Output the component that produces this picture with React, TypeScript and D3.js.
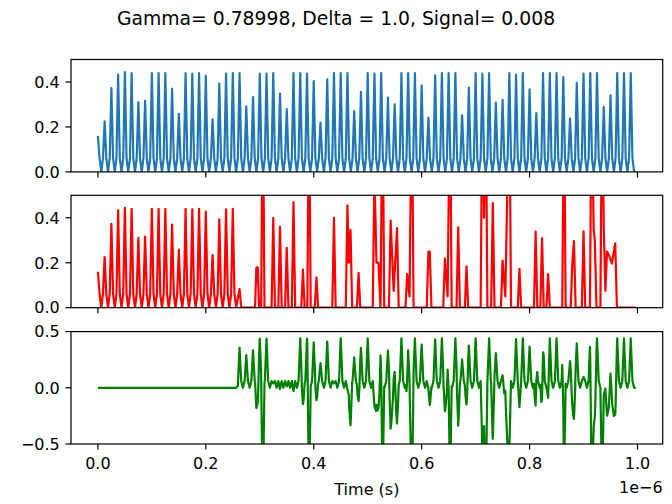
import React from "react";
import * as d3 from "d3";

const W = 672;
const H = 504;

// Peak height of each pulse of the blue (top) trace, 80 pulses over 1 µs.
const bluePeaks = [
  0.16, 0.225, 0.373, 0.433, 0.444, 0.44, 0.311, 0.316, 0.44, 0.44,
  0.44, 0.37, 0.258, 0.44, 0.437, 0.44, 0.427, 0.234, 0.393, 0.437,
  0.44, 0.44, 0.292, 0.333, 0.437, 0.437, 0.44, 0.348, 0.279, 0.44,
  0.44, 0.437, 0.404, 0.219, 0.412, 0.44, 0.44, 0.44, 0.271, 0.356,
  0.44, 0.437, 0.44, 0.33, 0.3, 0.44, 0.44, 0.44, 0.385, 0.241,
  0.43, 0.44, 0.44, 0.44, 0.252, 0.375, 0.44, 0.437, 0.44, 0.308,
  0.321, 0.44, 0.433, 0.44, 0.367, 0.262, 0.44, 0.44, 0.44, 0.422,
  0.237, 0.396, 0.437, 0.44, 0.44, 0.289, 0.341, 0.44, 0.44, 0.44,
];
// level of the blue trace beside a pulse, and at the trough between pulses
const blueFoot = 0.06;
const blueTrough = 0;
const pulsesPerMicrosecond = 80;
const lastSample = 79.75; // in pulse units

// Red (middle) trace: same as blue for the first 21 pulses, then these
// vertices [pulse position, value].
const redSharedPulses = 21;
const redLate: [number, number][] = [
  [21.0, 0.083], [21.25, 0],
  [23.3, 0], [23.5, 0.18], [23.7, 0.18], [23.9, 0], [24.2, 0], [24.45, 1.0], [24.7, 0],
  [25.75, 0], [26.0, 0.4], [26.25, 0],
  [26.75, 0], [27.0, 0.36], [27.25, 0],
  [27.75, 0], [28.0, 0.266], [28.25, 0],
  [28.75, 0], [29.0, 0.47], [29.25, 0],
  [30.15, 0], [30.4, 0.17], [30.65, 0], [31.05, 0], [31.3, 1.0], [31.55, 0],
  [32.15, 0], [32.4, 0.135], [32.65, 0],
  [34.75, 0], [35.0, 0.4], [35.25, 0],
  [36.75, 0], [37.0, 0.455], [37.2, 0.2], [37.45, 0.346], [37.7, 0],
  [38.4, 0], [38.65, 0.155], [38.9, 0],
  [40.75, 0], [41.0, 0.6], [41.3, 0.2], [41.6, 0.2], [41.9, 0], [42.2, 1.0], [42.45, 0],
  [43.15, 0], [43.4, 0.387], [43.85, 0.075], [44.35, 0.354], [44.6, 0],
  [45.6, 0], [45.85, 0.15], [46.2, 0.05], [46.55, 1.0], [46.8, 0],
  [48.75, 0], [49.0, 0.25], [49.2, 0.25], [49.45, 0],
  [51.2, 0], [51.45, 0.22], [51.85, 0.05], [52.2, 1.0], [52.45, 0],
  [53.17, 0], [53.42, 0.357], [53.67, 0],
  [54.4, 0], [54.65, 0.184], [54.9, 0],
  [56.75, 0], [57.0, 1.0], [57.25, 0.4], [57.5, 1.0], [57.75, 0],
  [58.3, 0], [58.55, 0.466], [58.8, 0],
  [59.75, 0], [60.0, 0.21], [60.4, 0.05], [61.0, 1.0], [61.25, 0],
  [62.25, 0], [62.5, 0.173], [62.75, 0],
  [64.65, 0], [64.9, 0.339], [65.15, 0], [65.6, 0], [65.85, 0.31], [66.1, 0],
  [66.5, 0], [66.75, 0.15], [67.0, 0],
  [68.85, 0], [69.1, 1.0], [69.35, 0],
  [70.1, 0], [70.33, 0.19], [70.58, 0.296], [70.83, 0],
  [71.75, 0], [72.0, 0.34], [72.25, 0],
  [72.95, 0], [73.2, 1.0], [73.5, 0.35], [73.67, 0.3], [73.92, 0],
  [74.5, 0], [74.75, 1.0], [75.0, 0.354], [75.24, 0.075], [75.48, 0.25],
  [75.82, 0.23], [76.2, 0.196], [76.7, 0.286], [76.95, 0],
  [79.75, 0],
];

const xTicks = [0, 0.2, 0.4, 0.6, 0.8, 1.0];
const xTickLabels = ["0.0", "0.2", "0.4", "0.6", "0.8", "1.0"];
const yTicksPos = [0, 0.2, 0.4];
const yTickLabelsPos = ["0.0", "0.2", "0.4"];
const yTicksDiff = [-0.5, 0, 0.5];
const yTickLabelsDiff = ["\u22120.5", "0.0", "0.5"];

const title = "Gamma= 0.78998, Delta = 1.0, Signal= 0.008";
const xLabel = "Time (s)";
const offsetLabel = "1e\u22126";

// ---- build series ----
function pulseTrain(peaks: number[], count: number) {
  const us: number[] = [];
  const vs: number[] = [];
  for (let i = 0; i < count; i++) {
    if (i > 0) {
      us.push(i - 0.25);
      vs.push(blueFoot);
    }
    us.push(i, i + 0.25, i + 0.5);
    vs.push(peaks[i], blueFoot, blueTrough);
  }
  return { us, vs };
}

const blueTrain = pulseTrain(bluePeaks, bluePeaks.length);
const blueU = [...blueTrain.us, lastSample];
const blueV = [...blueTrain.vs, blueTrough];

const redTrain = pulseTrain(bluePeaks, redSharedPulses);
const redU = [...redTrain.us, ...redLate.map((d) => d[0])];
const redV = [...redTrain.vs, ...redLate.map((d) => d[1])];

// green = blue − red (difference of the two traces)
const blueAt = d3.scaleLinear().domain(blueU).range(blueV).clamp(true);
const redAt = d3.scaleLinear().domain(redU).range(redV).clamp(true);
const greenU = Array.from(new Set([...blueU, ...redU])).sort((a, b) => a - b);
const greenV = greenU.map((u) => blueAt(u) - redAt(u));

const toPts = (us: number[], vs: number[]) =>
  us.map((u, i) => [u / pulsesPerMicrosecond, vs[i]] as [number, number]);

const blueData = toPts(blueU, blueV);
const redData = toPts(redU, redV);
const greenData = toPts(greenU, greenV);

// ---- layout ----
const left = 71;
const right = 662.7;
const panelH = 112.4;
const tops = [59.5, 195.3, 331.6];
const tEnd = lastSample / pulsesPerMicrosecond;
const x = d3
  .scaleLinear()
  .domain([-0.05 * tEnd, 1.05 * tEnd])
  .range([left, right]);

const FONT = "'DejaVu Sans', sans-serif";
const tickLen = 5.6;
const tickPad = 5.6;
const fs = 16;

type PanelProps = {
  id: string;
  top: number;
  domain: [number, number];
  yTicks: number[];
  yLabels: string[];
  data: [number, number][];
  color: string;
  showX: boolean;
};

function Panel({ id, top, domain, yTicks, yLabels, data, color, showX }: PanelProps) {
  const bottom = top + panelH;
  const y = d3.scaleLinear().domain(domain).range([bottom, top]);
  const line = d3
    .line<[number, number]>()
    .x((d) => x(d[0]))
    .y((d) => y(d[1]));
  return (
    <g>
      <defs>
        <clipPath id={id}>
          <rect x={left} y={top} width={right - left} height={panelH} />
        </clipPath>
      </defs>
      <path
        d={line(data) || ""}
        fill="none"
        stroke={color}
        strokeWidth={2.2}
        strokeLinejoin="round"
        clipPath={`url(#${id})`}
      />
      <rect
        x={left}
        y={top}
        width={right - left}
        height={panelH}
        fill="none"
        stroke="#000"
        strokeWidth={1.2}
      />
      {xTicks.map((t, i) => (
        <g key={`x${i}`}>
          <line
            x1={x(t)}
            x2={x(t)}
            y1={bottom}
            y2={bottom + tickLen}
            stroke="#000"
            strokeWidth={1.2}
          />
          {showX && (
            <text
              x={x(t)}
              y={bottom + 24.5}
              textAnchor="middle"
              fontFamily={FONT}
              fontSize={fs}
              fill="#000"
            >
              {xTickLabels[i]}
            </text>
          )}
        </g>
      ))}
      {yTicks.map((v, i) => (
        <g key={`y${i}`}>
          <line
            x1={left - tickLen}
            x2={left}
            y1={y(v)}
            y2={y(v)}
            stroke="#000"
            strokeWidth={1.2}
          />
          <text
            x={left - tickLen - tickPad}
            y={y(v)}
            dy="0.36em"
            textAnchor="end"
            fontFamily={FONT}
            fontSize={fs}
            fill="#000"
          >
            {yLabels[i]}
          </text>
        </g>
      ))}
    </g>
  );
}

export default function App() {
  return (
    <svg
      width={W}
      height={H}
      style={{ display: "block", position: "absolute", left: 0, top: 0, background: "#fff" }}
    >
      <rect x={0} y={0} width={W} height={H} fill="#fff" />
      <text
        x={W / 2}
        y={24.5}
        textAnchor="middle"
        fontFamily={FONT}
        fontSize={18.8}
        fill="#000"
      >
        {title}
      </text>
      <Panel
        id="c1"
        top={tops[0]}
        domain={[0, 0.5]}
        yTicks={yTicksPos}
        yLabels={yTickLabelsPos}
        data={blueData}
        color="#1f77b4"
        showX={false}
      />
      <Panel
        id="c2"
        top={tops[1]}
        domain={[0, 0.5]}
        yTicks={yTicksPos}
        yLabels={yTickLabelsPos}
        data={redData}
        color="#ff0000"
        showX={false}
      />
      <Panel
        id="c3"
        top={tops[2]}
        domain={[-0.5, 0.5]}
        yTicks={yTicksDiff}
        yLabels={yTickLabelsDiff}
        data={greenData}
        color="#008000"
        showX={true}
      />
      <text
        x={(left + right) / 2}
        y={495}
        textAnchor="middle"
        fontFamily={FONT}
        fontSize={fs}
        fill="#000"
      >
        {xLabel}
      </text>
      <text
        x={right}
        y={492.5}
        textAnchor="end"
        fontFamily={FONT}
        fontSize={fs}
        fill="#000"
      >
        {offsetLabel}
      </text>
    </svg>
  );
}
